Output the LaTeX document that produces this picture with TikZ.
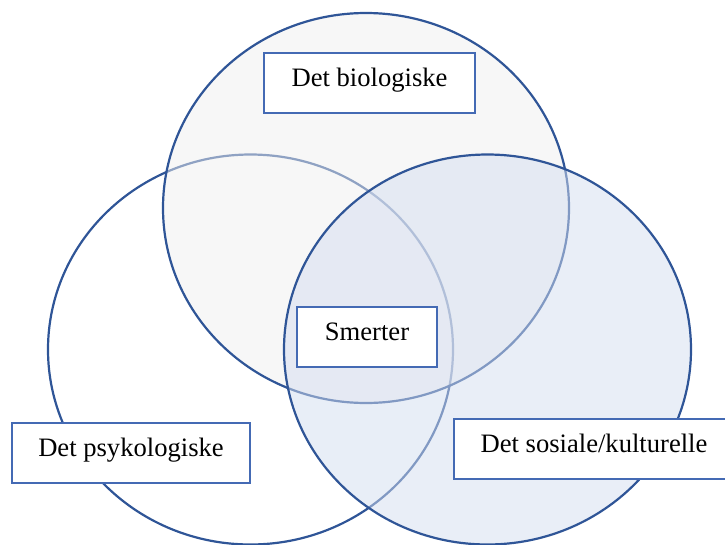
\documentclass[tikz,border=0pt]{standalone}
\usepackage{fontspec}
\setmainfont{Liberation Serif}
\definecolor{vennblue}{RGB}{47,85,151}
\definecolor{boxblue}{RGB}{68,106,180}
\definecolor{biofill}{RGB}{239,239,239}
\definecolor{sosfill}{RGB}{211,221,239}
\tikzset{
  venn/.style={draw=vennblue, line width=2.2pt, fill opacity=0.5},
  labelbox/.style={draw=boxblue, line width=1.2pt, fill=white,
    inner xsep=0pt, inner ysep=0pt, anchor=base,
    text height=33pt, text depth=27pt,
    font=\fontsize{26.6}{32}\selectfont},
}

\begin{document}
\begin{tikzpicture}[x=1pt, y=-1pt]
  \useasboundingbox (0,0) rectangle (725,544);
  \clip (0,0) rectangle (725,544);

  % Circles
  \draw[venn, fill=white] (250.5,349.5) ellipse [x radius=202.5, y radius=195];
  \draw[venn, fill=biofill] (366,208) ellipse [x radius=203, y radius=195];
  \draw[venn, fill=sosfill] (487.5,349.5) ellipse [x radius=203.5, y radius=195];

  % Labels
  \node[labelbox, minimum width=211pt] (bio) at (369.5,86) {Det biologiske};
  \node[labelbox, minimum width=140pt] (smerter) at (367,340) {Smerter};
  \node[labelbox, minimum width=238pt] (psyk) at (131,456) {Det psykologiske};
  \node[labelbox, minimum width=280pt] (sosial) at (594,452) {Det sosiale/kulturelle};
\end{tikzpicture}
\end{document}
